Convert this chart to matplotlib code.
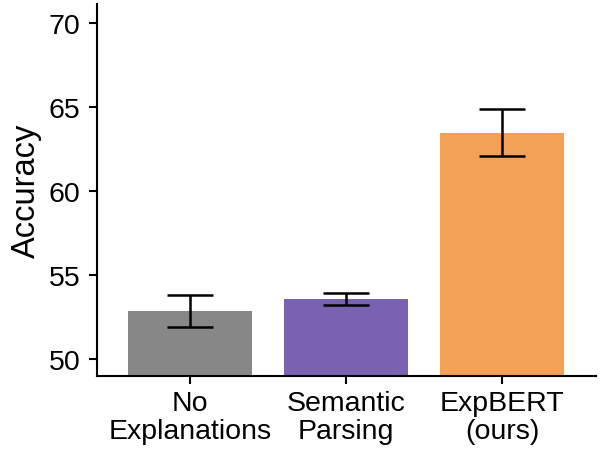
import numpy as np
import matplotlib.pyplot as plt

plt.rcParams['font.family'] = ['Liberation Sans', 'DejaVu Sans']

# data
methods = ['No\nExplanations', 'Semantic\nParsing', 'ExpBERT\n(ours)']
accuracy = [52.85, 53.57, 63.49]
err = [0.97, 0.38, 1.39]
colors = ['#878787', '#7a62b3', '#f2a157']
yticks = [50, 55, 60, 65, 70]

fig = plt.figure(figsize=(6, 4.56), dpi=100)
ax = fig.add_axes([97 / 600, 1 - 376.7 / 456, 499 / 600, 371.7 / 456])

x = np.arange(len(methods))
ax.bar(x, accuracy, width=0.79, color=colors, zorder=1)
ax.errorbar(x, accuracy, yerr=err, fmt='none', ecolor='black',
            elinewidth=1.8, capsize=16.5, capthick=1.8, zorder=2)

ax.set_xlim(-0.596, 2.603)
ax.set_ylim(49.0, 71.15)
ax.set_yticks(yticks)
ax.set_xticks(x)
ax.set_xticklabels(methods, linespacing=1.1)
ax.set_ylabel('Accuracy', fontsize=23.5, labelpad=5)

for s in ['top', 'right']:
    ax.spines[s].set_visible(False)
for s in ['left', 'bottom']:
    ax.spines[s].set_linewidth(1.5)
ax.tick_params(axis='both', width=1.5, length=6, labelsize=20.5)
ax.tick_params(axis='y', pad=6)
ax.tick_params(axis='x', pad=4)

fig.savefig('out.png', dpi=100)
